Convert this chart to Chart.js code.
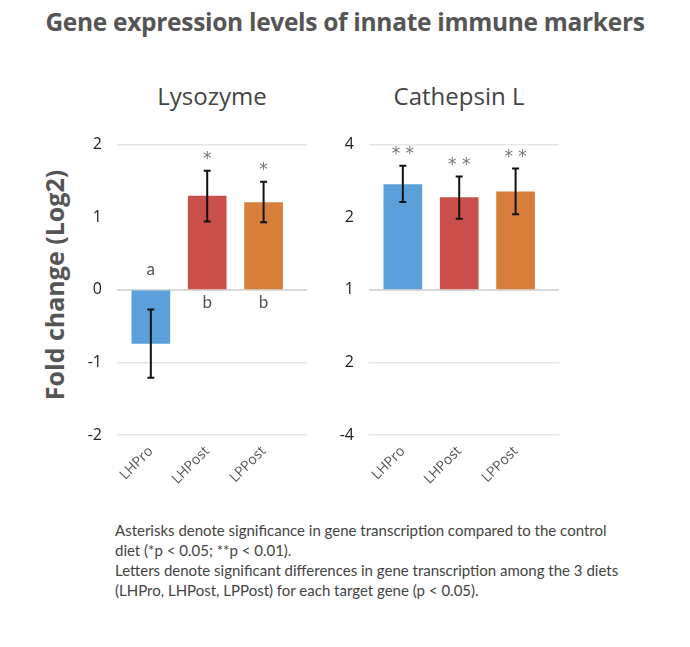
<!DOCTYPE html>
<html>
<head>
<meta charset="utf-8">
<script src="https://cdn.jsdelivr.net/npm/chart.js@4.4.1/dist/chart.umd.min.js"></script>
<style>
  body { margin: 0; background: #fff; width: 690px; height: 647px; position: relative; overflow: hidden; font-family: 'Open Sans', sans-serif; }
  .title { position: absolute; left: 0; width: 690px; top: 5px; text-align: center; font-size: 24.5px; font-weight: 700; color: #555; letter-spacing: -0.3px; }
  .sub { position: absolute; top: 79px; width: 200px; text-align: center; font-size: 24px; color: #444; }
  .ylabel { position: absolute; left: 54px; top: 285px; transform: translate(-50%, -50%) rotate(-90deg); white-space: nowrap; font-size: 25px; font-weight: 700; color: #555; }
  .panel { position: absolute; top: 120px; width: 260px; height: 390px; }
  .note { position: absolute; left: 115px; top: 520px; font-family: Lato, sans-serif; font-size: 15px; line-height: 20px; color: #444; }
</style>
</head>
<body>
<div class="title">Gene expression levels of innate immune markers</div>
<div class="sub" style="left:112px">Lysozyme</div>
<div class="sub" style="left:359px">Cathepsin L</div>
<div class="ylabel">Fold change (Log2)</div>
<div class="panel" style="left:60px"><canvas id="lysozyme"></canvas></div>
<div class="panel" style="left:310px"><canvas id="cathepsin"></canvas></div>
<div class="note">
  Asterisks denote significance in gene transcription compared to the control<br>
  diet (*p &lt; 0.05; **p &lt; 0.01).<br>
  Letters denote significant differences in gene transcription among the 3 diets<br>
  (LHPro, LHPost, LPPost) for each target gene (p &lt; 0.05).
</div>
<script>
// Diets and colours
const diets = ['LHPro', 'LHPost', 'LPPost'];
const barColors = ['#5BA0DB', '#C9504A', '#D77E3A'];

// Lysozyme (log2 fold change)
const lysozymeMean = [-0.74, 1.29, 1.20];
const lysozymeHigh = [-0.27, 1.64, 1.49];
const lysozymeLow = [-1.21, 0.94, 0.93];
const lysozymeStars = ['', '*', '*'];
const lysozymeLetters = ['a', 'b', 'b'];
const lysozymeTicks = ['-2', '-1', '0', '1', '2'];

// Cathepsin L (plotted on the same evenly spaced positions)
const cathepsinMean = [1.45, 1.27, 1.35];
const cathepsinHigh = [1.71, 1.56, 1.67];
const cathepsinLow = [1.21, 0.98, 1.04];
const cathepsinStars = ['* *', '* *', '* *'];
const cathepsinLetters = ['', '', ''];
const cathepsinTicks = ['-4', '2', '1', '2', '4'];

// Error bars, asterisks and letters
const markPlugin = {
  id: 'marks',
  afterDatasetsDraw(chart, args, opts) {
    const { ctx } = chart;
    const x = chart.scales.x;
    const y = chart.scales.y;
    ctx.save();
    opts.mean.forEach((m, i) => {
      const cx = x.getPixelForValue(i);
      const top = y.getPixelForValue(opts.high[i]);
      const bot = y.getPixelForValue(opts.low[i]);
      ctx.strokeStyle = '#111';
      ctx.lineWidth = 2;
      ctx.beginPath();
      ctx.moveTo(cx, top); ctx.lineTo(cx, bot);
      ctx.moveTo(cx - 3.5, top); ctx.lineTo(cx + 3.5, top);
      ctx.moveTo(cx - 3.5, bot); ctx.lineTo(cx + 3.5, bot);
      ctx.stroke();

      ctx.textAlign = 'center';
      ctx.textBaseline = 'middle';
      if (opts.stars[i]) {
        ctx.fillStyle = '#777';
        ctx.font = '17px "DejaVu Sans"';
        ctx.fillText(opts.stars[i], cx, top - 11);
      }
      if (opts.letters[i]) {
        const zero = y.getPixelForValue(0);
        ctx.fillStyle = '#555';
        ctx.font = '17px Lato';
        ctx.fillText(opts.letters[i], cx, m < 0 ? zero - 20 : zero + 13);
      }
    });
    ctx.restore();
  }
};

function makePanel(id, mean, high, low, stars, letters, tickLabels, axisW, padRight) {
  new Chart(document.getElementById(id), {
    type: 'bar',
    data: {
      datasets: [{
        data: mean.map((v, i) => ({ x: i, y: v })),
        backgroundColor: barColors,
        barThickness: 38
      }]
    },
    options: {
      responsive: true,
      maintainAspectRatio: false,
      animation: false,
      layout: { padding: { top: 19, right: padRight, bottom: 0, left: 0 } },
      plugins: {
        legend: { display: false },
        tooltip: { enabled: false },
        marks: { mean: mean, high: high, low: low, stars: stars, letters: letters }
      },
      scales: {
        x: {
          type: 'linear',
          offset: false,
          min: -0.6,
          max: 2.77,
          afterBuildTicks: axis => { axis.ticks = diets.map((d, i) => ({ value: i })); },
          afterFit: axis => { axis.height = 75; },
          grid: { display: false, offset: false },
          border: { display: false },
          ticks: {
            autoSkip: false,
            minRotation: 45,
            maxRotation: 45,
            padding: 0,
            color: '#555',
            font: { family: 'Open Sans', size: 14 },
            callback: v => diets[v]
          }
        },
        y: {
          min: -2,
          max: 2,
          afterFit: axis => { axis.width = axisW; },
          border: { display: false },
          grid: {
            drawTicks: false,
            color: c => c.tick.value === 1 ? 'rgba(0,0,0,0)' : (c.tick.value === 0 ? '#d9d9d9' : '#e6e6e6'),
            lineWidth: c => c.tick.value === 0 ? 2 : 1.5
          },
          ticks: {
            stepSize: 1,
            padding: 15,
            color: '#222',
            font: { family: 'Open Sans', size: 16 },
            callback: v => tickLabels[v + 2]
          }
        }
      }
    },
    plugins: [markPlugin]
  });
}

makePanel('lysozyme', lysozymeMean, lysozymeHigh, lysozymeLow, lysozymeStars, lysozymeLetters, lysozymeTicks, 57, 13);
makePanel('cathepsin', cathepsinMean, cathepsinHigh, cathepsinLow, cathepsinStars, cathepsinLetters, cathepsinTicks, 59, 11);
</script>
</body>
</html>
